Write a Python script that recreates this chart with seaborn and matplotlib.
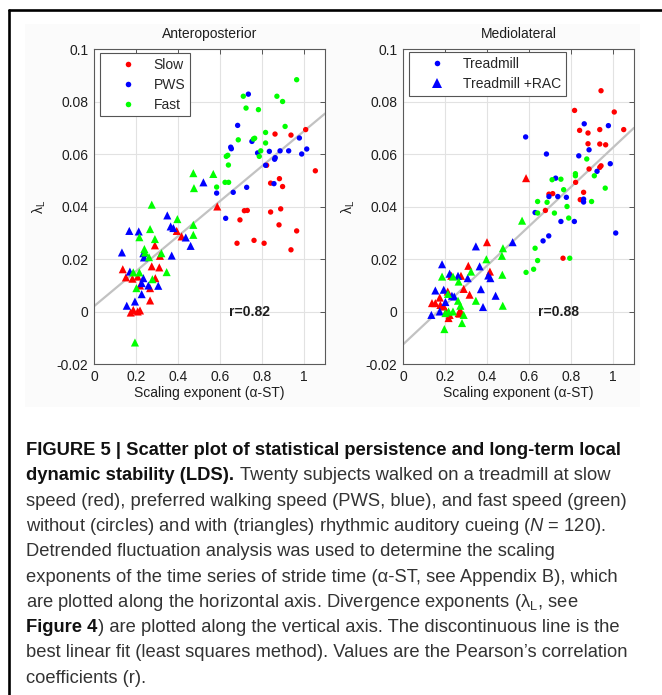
"""Scatter of stride-time scaling exponent against local divergence exponent."""

import matplotlib

matplotlib.use("Agg")
import matplotlib.pyplot as plt
from matplotlib.lines import Line2D
from matplotlib.patches import Rectangle
from matplotlib.ticker import FuncFormatter, MultipleLocator
import pandas as pd
import seaborn as sns


SPEEDS = ["Slow", "PWS", "Fast"]
CONDITIONS = ["Treadmill", "Treadmill +RAC"]
COLORS = {"Slow": "#ff0000", "PWS": "#0000ff", "Fast": "#00ff00"}
PANEL_TITLES = ["Anteroposterior", "Mediolateral"]
R_VALUES = ["r=0.82", "r=0.88"]

# Anteroposterior, treadmill only (circles)
AP_SLOW_TM_X = [1.008, 1.054, 0.938, 0.862, 0.822, 0.841, 0.883, 0.898, 0.681, 0.695,
                0.716, 0.730, 0.762, 0.810, 0.841, 0.889, 0.881, 0.965, 0.938]
AP_SLOW_TM_Y = [0.0693, 0.0536, 0.0672, 0.0676, 0.0557, 0.0489, 0.0506, 0.0476, 0.0260, 0.0349,
                0.0384, 0.0385, 0.0271, 0.0260, 0.0379, 0.0391, 0.0330, 0.0307, 0.0235]
AP_PWS_TM_X = [0.735, 0.684, 0.651, 0.654, 0.752, 0.779, 0.817, 0.835, 0.863, 0.860,
               0.886, 0.927, 0.978, 0.989, 1.013, 0.584, 0.663, 0.727, 0.627, 0.857]
AP_PWS_TM_Y = [0.0828, 0.0709, 0.0626, 0.0620, 0.0648, 0.0604, 0.0557, 0.0610, 0.0586, 0.0580,
               0.0612, 0.0612, 0.0661, 0.0600, 0.0619, 0.0451, 0.0454, 0.0473, 0.0355, 0.0487]
AP_FAST_TM_X = [0.965, 0.711, 0.724, 0.783, 0.871, 0.898, 0.910, 0.817, 0.817, 0.687,
                0.759, 0.765, 0.630, 0.637, 0.640, 0.624, 0.641, 0.584, 0.794, 0.787]
AP_FAST_TM_Y = [0.0883, 0.0820, 0.0775, 0.0769, 0.0820, 0.0800, 0.0705, 0.0682, 0.0642, 0.0654,
                0.0657, 0.0660, 0.0591, 0.0595, 0.0558, 0.0492, 0.0492, 0.0474, 0.0612, 0.0591]

# Anteroposterior, with rhythmic auditory cueing (triangles)
AP_SLOW_RAC_X = [0.587, 0.394, 0.417, 0.290, 0.314, 0.275, 0.311, 0.292, 0.267, 0.267,
                 0.137, 0.152, 0.183, 0.208, 0.219, 0.175, 0.187, 0.208, 0.219]
AP_SLOW_RAC_Y = [0.0400, 0.0307, 0.0286, 0.0252, 0.0212, 0.0172, 0.0168, 0.0127, 0.0089, 0.0042,
                 0.0161, 0.0130, 0.0125, 0.0133, 0.0099, -0.0004, 0.0006, 0.0000, 0.0004]
AP_PWS_RAC_X = [0.521, 0.349, 0.365, 0.378, 0.437, 0.460, 0.370, 0.133, 0.168, 0.213,
                0.238, 0.235, 0.235, 0.227, 0.259, 0.306, 0.227, 0.156, 0.195, 0.171]
AP_PWS_RAC_Y = [0.0492, 0.0366, 0.0324, 0.0318, 0.0282, 0.0250, 0.0213, 0.0225, 0.0307, 0.0305,
                0.0206, 0.0222, 0.0127, 0.0108, 0.0099, 0.0098, 0.0066, 0.0022, 0.0038, 0.0152]
AP_FAST_RAC_X = [0.275, 0.473, 0.568, 0.476, 0.397, 0.473, 0.473, 0.267, 0.290, 0.216,
                 0.240, 0.243, 0.262, 0.321, 0.346, 0.216, 0.187, 0.202, 0.278, 0.195]
AP_FAST_RAC_Y = [0.0407, 0.0527, 0.0524, 0.0470, 0.0352, 0.0330, 0.0292, 0.0314, 0.0276, 0.0283,
                 0.0238, 0.0225, 0.0207, 0.0222, 0.0150, 0.0149, 0.0149, 0.0089, 0.0123, -0.0118]

# Mediolateral, treadmill only (circles)
ML_SLOW_TM_X = [0.943, 0.817, 1.006, 1.051, 0.937, 0.841, 0.881, 0.881, 0.937, 0.965,
                0.937, 0.943, 0.822, 0.860, 0.844, 0.695, 0.713, 0.678, 0.762, 0.886]
ML_SLOW_TM_Y = [0.0841, 0.0766, 0.0760, 0.0693, 0.0693, 0.0690, 0.0680, 0.0639, 0.0638, 0.0635,
                0.0549, 0.0555, 0.0492, 0.0454, 0.0426, 0.0447, 0.0449, 0.0385, 0.0203, 0.0543]
ML_PWS_TM_X = [0.584, 0.683, 0.863, 0.978, 0.886, 0.837, 0.924, 0.987, 1.013, 0.727,
               0.695, 0.737, 0.778, 0.860, 0.860, 0.629, 0.752, 0.816, 0.667, 0.694]
ML_PWS_TM_Y = [0.0665, 0.0600, 0.0715, 0.0708, 0.0616, 0.0593, 0.0534, 0.0563, 0.0299, 0.0508,
               0.0438, 0.0438, 0.0435, 0.0428, 0.0417, 0.0377, 0.0343, 0.0343, 0.0269, 0.0288]
ML_FAST_TM_X = [0.875, 0.821, 0.821, 0.911, 0.710, 0.752, 0.765, 0.641, 0.686, 0.898,
                0.963, 0.641, 0.721, 0.781, 0.789, 0.629, 0.641, 0.622, 0.586, 0.794]
ML_FAST_TM_Y = [0.0581, 0.0525, 0.0517, 0.0517, 0.0502, 0.0504, 0.0464, 0.0419, 0.0416, 0.0419,
                0.0470, 0.0375, 0.0375, 0.0400, 0.0356, 0.0241, 0.0194, 0.0161, 0.0149, 0.0203]

# Mediolateral, with rhythmic auditory cueing (triangles)
ML_SLOW_RAC_X = [0.586, 0.400, 0.311, 0.414, 0.230, 0.276, 0.289, 0.317, 0.175, 0.213,
                 0.138, 0.154, 0.194, 0.222, 0.217, 0.265, 0.270, 0.206, 0.178, 0.273]
ML_SLOW_RAC_Y = [0.0508, 0.0264, 0.0174, 0.0152, 0.0136, 0.0136, 0.0086, 0.0064, 0.0053, 0.0076,
                 0.0032, 0.0032, 0.0019, -0.0013, -0.0025, -0.0006, -0.0008, 0.0000, 0.0025, 0.0004]
ML_PWS_RAC_X = [0.522, 0.347, 0.406, 0.186, 0.365, 0.222, 0.262, 0.308, 0.416, 0.154,
                0.194, 0.371, 0.233, 0.244, 0.441, 0.202, 0.381, 0.175, 0.135]
ML_PWS_RAC_Y = [0.0264, 0.0248, 0.0137, 0.0180, 0.0172, 0.0144, 0.0136, 0.0127, 0.0127, 0.0080,
                0.0083, 0.0085, 0.0060, 0.0057, 0.0060, 0.0036, 0.0017, 0.0000, -0.0013]
ML_FAST_RAC_X = [0.567, 0.476, 0.471, 0.397, 0.473, 0.475, 0.324, 0.186, 0.238, 0.265,
                 0.347, 0.262, 0.214, 0.273, 0.238, 0.202, 0.217, 0.281, 0.289, 0.197]
ML_FAST_RAC_Y = [0.0346, 0.0241, 0.0212, 0.0199, 0.0140, 0.0022, 0.0152, 0.0133, 0.0133, 0.0114,
                 0.0041, 0.0041, 0.0067, 0.0022, 0.0000, -0.0006, 0.0000, -0.0044, -0.0013, -0.0067]

CAPTION = [
    [("FIGURE 5 | Scatter plot of statistical persistence and long-term local", "bold", False)],
    [("dynamic stability (LDS).", "bold", False),
     ("Twenty subjects walked on a treadmill at slow", "normal", True)],
    [("speed (red), preferred walking speed (PWS, blue), and fast speed (green)", "normal", False)],
    [("without (circles) and with (triangles) rhythmic auditory cueing ($N$ = 120).", "normal", False)],
    [("Detrended fluctuation analysis was used to determine the scaling", "normal", False)],
    [("exponents of the time series of stride time (α-ST, see Appendix B), which", "normal", False)],
    [("are plotted along the horizontal axis. Divergence exponents (λ$_{\\mathrm{L}}$, see", "normal", False)],
    [("Figure 4", "bold", False),
     (") are plotted along the vertical axis. The discontinuous line is the", "normal", False)],
    [("best linear fit (least squares method). Values are the Pearson’s correlation", "normal", False)],
    [("coefficients (r).", "normal", False)],
]

W, H = 662, 695


def build_frame(prefix: str) -> pd.DataFrame:
    rows = []
    groups = {
        ("Treadmill", "Slow"): (f"{prefix}_SLOW_TM_X", f"{prefix}_SLOW_TM_Y"),
        ("Treadmill", "PWS"): (f"{prefix}_PWS_TM_X", f"{prefix}_PWS_TM_Y"),
        ("Treadmill", "Fast"): (f"{prefix}_FAST_TM_X", f"{prefix}_FAST_TM_Y"),
        ("Treadmill +RAC", "Slow"): (f"{prefix}_SLOW_RAC_X", f"{prefix}_SLOW_RAC_Y"),
        ("Treadmill +RAC", "PWS"): (f"{prefix}_PWS_RAC_X", f"{prefix}_PWS_RAC_Y"),
        ("Treadmill +RAC", "Fast"): (f"{prefix}_FAST_RAC_X", f"{prefix}_FAST_RAC_Y"),
    }
    for (cond, speed), (xname, yname) in groups.items():
        for xv, yv in zip(globals()[xname], globals()[yname]):
            rows.append({"alpha": xv, "lyap": yv, "speed": speed, "cond": cond})
    return pd.DataFrame(rows)


def draw_panel(ax, data, title, r_text):
    ax.set_xlim(0, 1.1)
    ax.set_ylim(-0.02, 0.1)
    ax.set_axisbelow(True)
    ax.grid(True, color="#e2e2e2", linewidth=0.8)

    sns.regplot(
        data=data, x="alpha", y="lyap", scatter=False, ci=None, truncate=False,
        line_kws={"color": "#c2c2c2", "linewidth": 1.6, "zorder": 1.5}, ax=ax,
    )
    sns.scatterplot(
        data=data[data["cond"] == "Treadmill"], x="alpha", y="lyap", hue="speed",
        hue_order=SPEEDS, palette=COLORS, marker="o", s=15, linewidth=0,
        legend=False, ax=ax, zorder=3,
    )
    sns.scatterplot(
        data=data[data["cond"] == "Treadmill +RAC"], x="alpha", y="lyap", hue="speed",
        hue_order=SPEEDS, palette=COLORS, marker="^", s=34, linewidth=0,
        legend=False, ax=ax, zorder=3,
    )

    ax.set_xlim(0, 1.1)
    ax.set_ylim(-0.02, 0.1)
    ax.xaxis.set_major_locator(MultipleLocator(0.2))
    ax.yaxis.set_major_locator(MultipleLocator(0.02))
    fmt = FuncFormatter(lambda v, _: f"{v:.2f}".rstrip("0").rstrip(".") if abs(v) > 1e-9 else "0")
    ax.xaxis.set_major_formatter(fmt)
    ax.yaxis.set_major_formatter(fmt)
    ax.tick_params(direction="in", length=3.5, width=0.7, color="#555555",
                   top=True, right=True, labelsize=10, labelcolor="#1e1e1e", pad=4)
    for spine in ax.spines.values():
        spine.set_color("#5a5a5a")
        spine.set_linewidth(0.8)

    ax.set_title(title, fontsize=10, color="#1e1e1e", pad=8)
    ax.set_xlabel("Scaling exponent (α-ST)", fontsize=10, color="#1e1e1e", labelpad=2)
    ax.set_ylabel("λ$_{\\mathrm{L}}$", fontsize=10, color="#1e1e1e")
    ax.yaxis.set_label_coords(-0.20, 0.5)
    ax.text(0.74, 0.0, r_text, fontsize=10, fontweight="bold", ha="center",
            va="center", color="#1e1e1e", zorder=4)


def main() -> None:
    sns.set_theme(style="white")
    plt.rcParams.update(
        {
            "font.family": ["Liberation Sans", "DejaVu Sans"],
            "mathtext.fontset": "custom",
            "mathtext.rm": "Liberation Sans",
            "mathtext.it": "Liberation Sans:italic",
            "mathtext.bf": "Liberation Sans:bold",
        }
    )

    fig = plt.figure(figsize=(W / 100, H / 100), dpi=100)
    fig.patch.set_facecolor("white")

    # faint grey backdrop of the exported panel
    fig.patches.append(Rectangle((25 / W, 1 - 407 / H), (640 - 25) / W, (407 - 24) / H,
                                 transform=fig.transFigure, facecolor="#fbfbfb",
                                 edgecolor="none", zorder=-10))
    # box lines on top and left edge
    fig.lines.append(Line2D([9 / W, 1.0], [1 - 10 / H, 1 - 10 / H], transform=fig.transFigure,
                            color="black", linewidth=1.9))
    fig.lines.append(Line2D([9 / W, 9 / W], [0.0, 1 - 10 / H], transform=fig.transFigure,
                            color="black", linewidth=1.9))

    ax_w, ax_h = 231 / W, 315 / H
    ax_bottom = 1 - 364 / H
    ax_ap = fig.add_axes([94 / W, ax_bottom, ax_w, ax_h])
    ax_ml = fig.add_axes([403 / W, ax_bottom, ax_w, ax_h])

    draw_panel(ax_ap, build_frame("AP"), PANEL_TITLES[0], R_VALUES[0])
    draw_panel(ax_ml, build_frame("ML"), PANEL_TITLES[1], R_VALUES[1])

    speed_handles = [
        Line2D([], [], linestyle="none", marker="o", markersize=4, markeredgewidth=0,
               color=COLORS[s], label=s)
        for s in SPEEDS
    ]
    cond_handles = [
        Line2D([], [], linestyle="none", marker="o", markersize=4, markeredgewidth=0,
               color=COLORS["PWS"], label=CONDITIONS[0]),
        Line2D([], [], linestyle="none", marker="^", markersize=6.5, markeredgewidth=0,
               color=COLORS["PWS"], label=CONDITIONS[1]),
    ]
    legend_kw = dict(loc="upper left", borderaxespad=0, fontsize=10, frameon=True,
                     fancybox=False, framealpha=1, edgecolor="#555555",
                     handlelength=3.3, handletextpad=0.2, borderpad=0.35,
                     labelspacing=0.42)
    leg = ax_ap.legend(handles=speed_handles, bbox_to_anchor=(0.026, 0.987), **legend_kw)
    leg.get_frame().set_linewidth(0.8)
    leg = ax_ml.legend(handles=cond_handles, bbox_to_anchor=(0.027, 0.99), **legend_kw)
    leg.get_frame().set_linewidth(0.8)

    # caption, with bold runs measured so the following text joins up
    renderer = fig.canvas.get_renderer()
    cap_size = 13.2

    def width_of(s, weight):
        t = fig.text(0, 0, s, fontsize=cap_size, fontweight=weight)
        w = t.get_window_extent(renderer).width
        t.remove()
        return w

    space_w = width_of("n n", "normal") - width_of("nn", "normal")
    for i, runs in enumerate(CAPTION):
        y_px = 455 + i * 25.3
        x_px = 26.5
        for text, weight, gap in runs:
            if gap:
                x_px += space_w
            t = fig.text(x_px / W, 1 - y_px / H, text, fontsize=cap_size, fontweight=weight,
                         va="baseline", ha="left",
                         color="#111111" if weight == "bold" else "#333333")
            x_px += t.get_window_extent(renderer).width

    fig.savefig("out.png", dpi=100, facecolor="white")


if __name__ == "__main__":
    main()
